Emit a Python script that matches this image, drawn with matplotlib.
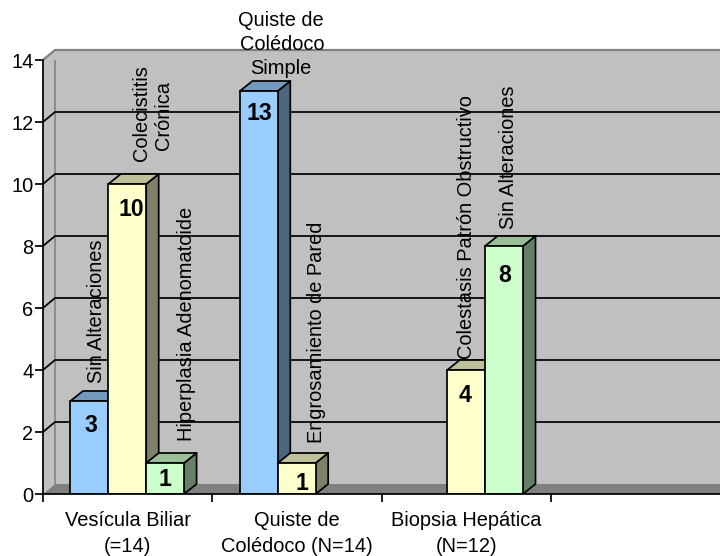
import numpy as np
import matplotlib
matplotlib.use('Agg')
import matplotlib.pyplot as plt
from matplotlib.patches import Polygon, Rectangle

categories = ['Vesícula Biliar\n(=14)', 'Quiste de\nColédoco (N=14)', 'Biopsia Hepática\n(N=12)']
blue_values = [3, 13, np.nan]
yellow_values = [10, 1, 4]
green_values = [1, np.nan, 8]
y_ticks = [0, 2, 4, 6, 8, 10, 12, 14]

# front, top and side colours for each series
series = [
    (blue_values, '#99ccff', '#7399bf', '#4d6680'),
    (yellow_values, '#ffffcc', '#bfbf99', '#808066'),
    (green_values, '#ccffcc', '#99bf99', '#668066'),
]

# value label nudges in pixels, (series, category) -> (dx, dy below bar top)
value_nudge = {
    (0, 0): (1, 25), (1, 0): (4, 26), (2, 0): (0, 17),
    (0, 1): (1, 23), (1, 1): (5, 21),
    (1, 2): (-1, 25), (2, 2): (1, 29),
}

# rotated bar names: text, centre x, centre y in pixels
bar_names = [
    ('Sin Alteraciones', 97, 311),
    ('Colecistitis', 142, 113),
    ('Crónica', 164, 115),
    ('Hiperplasia Adenomatoide', 186, 324),
    ('Engrosamiento de Pared', 317, 332),
    ('Colestasis Patrón Obstructivo', 467, 227),
    ('Sin Alteraciones', 508, 157),
]
# the one bar name written flat
flat_names = [('Quiste de', 281, 20), ('Colédoco', 282, 44), ('Simple', 281, 68)]

W, H = 720, 556
x0, x1 = 43, 720.5
y0, y1 = 494, 60
depth_x = 12.5
depth_y = 10
wall_x = 12
bar_start = 0.162
bar_width = 0.2235
font_px = 20
pt = 0.72
line = 1.25

plt.rcParams['font.family'] = ['Liberation Sans', 'DejaVu Sans']
fig = plt.figure(figsize=(W / 100, H / 100), dpi=100)
ax = fig.add_axes([x0 / W, 1 - y0 / H, (x1 - x0) / W, (y0 - y1) / H])
ax.set_xlim(0, 3.998)
ax.set_ylim(0, 14)
ax.patch.set_visible(False)
for name in ['top', 'right']:
    ax.spines[name].set_visible(False)
for name in ['left', 'bottom']:
    ax.spines[name].set_linewidth(line)
    ax.spines[name].set_zorder(8)

ux = (x1 - x0) / 3.998
uy = (y0 - y1) / 14
dx = depth_x / ux
dy = depth_y / uy
wx = wall_x / ux

# side wall, back wall and floor
ax.add_patch(Polygon([(0, 0), (wx, dy), (wx, 14 + dy), (0, 14)], fc='#c0c0c0', ec='none', clip_on=False, zorder=1))
ax.add_patch(Rectangle((wx, 0), 3.998 - wx, 14 + dy, fc='#c0c0c0', ec='none', clip_on=False, zorder=1))
ax.add_patch(Polygon([(0, 0), (wx, dy), (3.998, dy), (3.998, 0)], fc='#808080', ec='none', clip_on=False, zorder=2))
ax.plot([wx, wx], [dy, 14 + dy], color='#808080', lw=1.1, zorder=2)
ax.plot([0, wx, 3.998], [14, 14 + dy, 14 + dy], color='#808080', lw=1.6, clip_on=False, zorder=2)

for v in y_ticks[1:-1]:
    ax.plot([0, wx, 3.998], [v, v + dy, v + dy], color='black', lw=line, clip_on=False, zorder=3)

# bars go left to right so later bars cover the side of earlier ones
for c in range(len(categories)):
    for s, (values, front, top, side) in enumerate(series):
        v = values[c]
        if np.isnan(v):
            continue
        left = c + bar_start + s * bar_width
        right = left + bar_width
        ax.add_patch(Polygon([(right, 0), (right + dx, dy), (right + dx, v + dy), (right, v)],
                             fc=side, ec='black', lw=line, zorder=4, joinstyle='round'))
        ax.add_patch(Polygon([(left, v), (left + dx, v + dy), (right + dx, v + dy), (right, v)],
                             fc=top, ec='black', lw=line, zorder=4, joinstyle='round'))
        ax.bar(left, v, bar_width, align='edge', color=front, edgecolor='black', linewidth=line, zorder=4)

for c in range(len(categories)):
    for s, (values, front, top, side) in enumerate(series):
        v = values[c]
        if np.isnan(v):
            continue
        nudge = value_nudge[(s, c)]
        ax.annotate(str(v), xy=(c + bar_start + (s + 0.5) * bar_width, v),
                    xytext=(nudge[0] * pt, -nudge[1] * pt), textcoords='offset points',
                    ha='center', va='center', fontsize=23 * pt, fontweight='bold', zorder=9)

ax.set_yticks(y_ticks)
ax.tick_params(axis='y', length=8 * pt, width=line, labelsize=20 * pt, pad=1)
ax.set_xticks([0, 1, 2, 3])
ax.set_xticklabels([])
ax.tick_params(axis='x', which='major', length=8 * pt, width=line)
ax.set_xticks([0.5, 1.5, 2.5], minor=True)
ax.set_xticklabels(categories, minor=True, fontsize=font_px * pt, linespacing=1.43)
ax.tick_params(axis='x', which='minor', length=0, pad=12.5)

for text, px, py in bar_names:
    fig.text(px / W, 1 - py / H, text, rotation=90, ha='center', va='center', fontsize=font_px * pt, zorder=10)
for text, px, py in flat_names:
    fig.text(px / W, 1 - py / H, text, ha='center', va='center', fontsize=font_px * pt, zorder=10)

fig.savefig('out.png', dpi=100)
